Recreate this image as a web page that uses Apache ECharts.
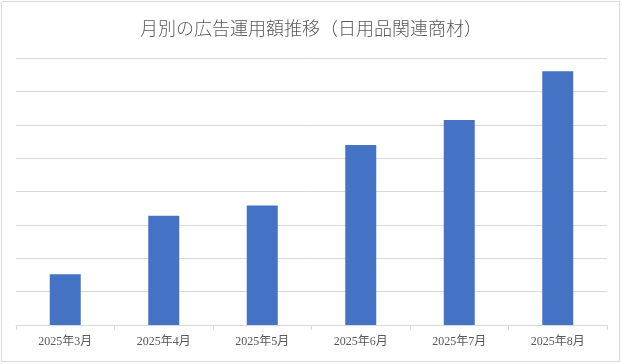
<!DOCTYPE html>
<html>
<head>
<meta charset="utf-8">
<script src="https://cdn.jsdelivr.net/npm/echarts@6/dist/echarts.min.js"></script>
<style>
  html, body { margin: 0; padding: 0; background: #ffffff; }
  #chart { width: 622px; height: 364px; }
</style>
</head>
<body>
<div id="chart"></div>
<script>
// 月別の広告運用額（単位は不明、目盛りなし）
const months = ['2025年3月', '2025年4月', '2025年5月', '2025年6月', '2025年7月', '2025年8月'];
const adSpend = [1.52, 3.27, 3.58, 5.39, 6.14, 7.6];

const chart = echarts.init(document.getElementById('chart'), null, {renderer: 'canvas'});
const option = {
    backgroundColor: '#ffffff',
    animation: false,
    title: {
        text: '月別の広告運用額推移（日用品関連商材）',
        left: 'center',
        top: 16,
        textStyle: {
            color: '#595959',
            fontSize: 18,
            fontWeight: 300,
            fontFamily: '"Liberation Serif", "Noto Sans CJK JP", serif'
        }
    },
    graphic: [{
        type: 'rect',
        shape: {x: 1.5, y: 1.5, width: 618, height: 360},
        style: {fill: 'none', stroke: '#d9d9d9', lineWidth: 1},
        silent: true
    }],
    grid: {
        left: 16,
        right: 15,
        top: 58,
        bottom: 39,
        containLabel: false
    },
    xAxis: {
        type: 'category',
        data: months,
        axisLine: {lineStyle: {color: '#d9d9d9', width: 1}},
        axisTick: {show: true, length: 5, lineStyle: {color: '#d9d9d9'}},
        axisLabel: {
            color: '#595959',
            fontSize: 12,
            margin: 11,
            fontFamily: '"Liberation Serif", "Noto Sans CJK JP", serif'
        }
    },
    yAxis: {
        type: 'value',
        min: 0,
        max: 8,
        interval: 1,
        axisLine: {show: false},
        axisTick: {show: false},
        axisLabel: {show: false},
        splitLine: {lineStyle: {color: '#d9d9d9', width: 1}}
    },
    series: [{
        type: 'bar',
        data: adSpend,
        barWidth: 31,
        itemStyle: {color: '#4472c4'}
    }]
};
chart.setOption(option);
</script>
</body>
</html>
